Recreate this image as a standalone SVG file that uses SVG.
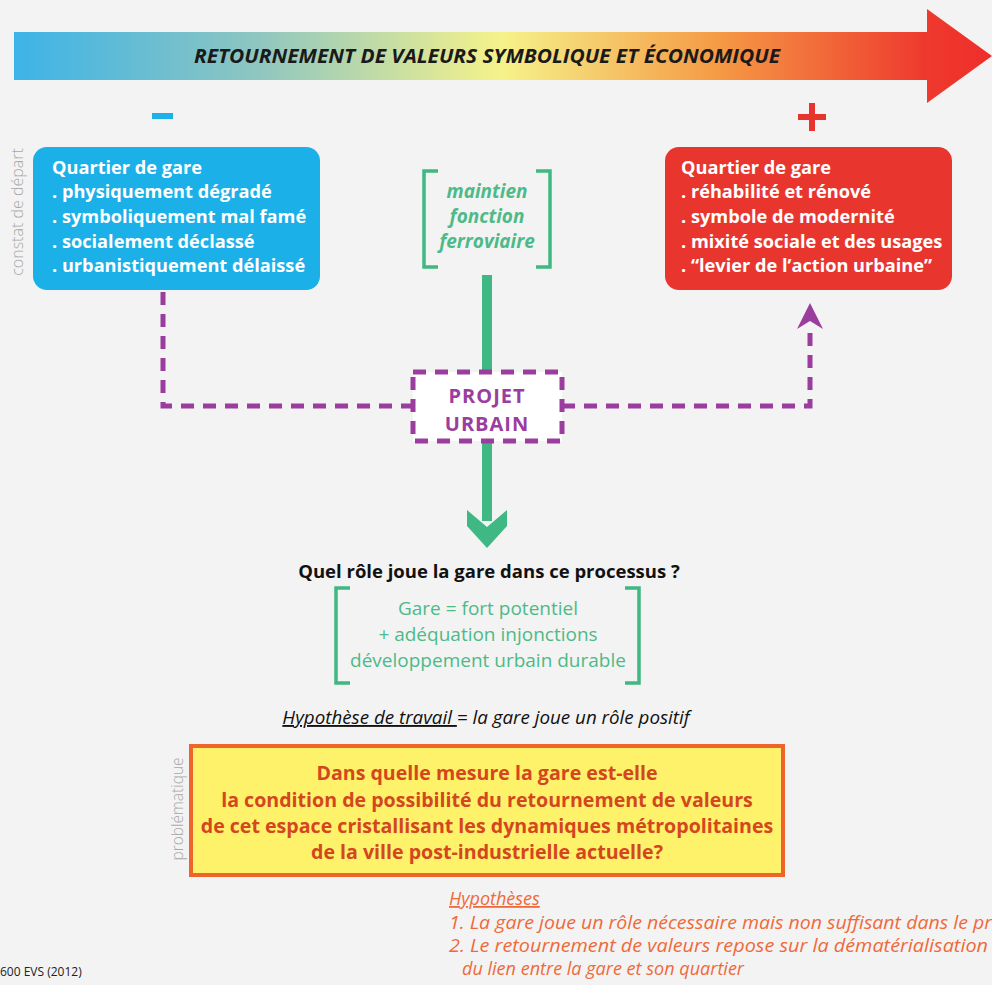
<svg xmlns="http://www.w3.org/2000/svg" width="992" height="985" viewBox="0 0 992 985">
<defs>
<linearGradient id="grad" x1="14" y1="0" x2="992" y2="0" gradientUnits="userSpaceOnUse">
<stop offset="0" stop-color="#3db3e8"/>
<stop offset="0.25" stop-color="#8fc6c0"/>
<stop offset="0.5" stop-color="#f6f28a"/>
<stop offset="0.72" stop-color="#f59a45"/>
<stop offset="0.93" stop-color="#ee3a2e"/>
<stop offset="1" stop-color="#ee2e2a"/>
</linearGradient>
</defs>
<style>
.box{font-family:"Open Sans","Noto Sans",sans-serif;font-weight:bold;font-size:18.2px;fill:#ffffff}
.side{font-family:"Open Sans","Noto Sans",sans-serif;font-weight:300;fill:#a8a8a8}
.green{fill:#3fb883}
.gtext{font-family:"Open Sans","Noto Sans",sans-serif;fill:#4dba88;text-anchor:middle}
.dash{fill:none;stroke:#9b3d9e;stroke-width:5;stroke-dasharray:13 9}
.bracket{fill:none;stroke:#3fb883;stroke-width:3.5}
.prob{font-family:"Open Sans","Noto Sans",sans-serif;font-weight:bold;font-size:19.6px;fill:#d4461e;text-anchor:middle}
.hyp{font-family:"Open Sans","Noto Sans",sans-serif;font-style:italic;font-size:18px;fill:#ef6a3a}
</style>
<rect x="0" y="0" width="992" height="985" fill="#f3f3f3"/>

<g id="value-arrow">
<polygon points="14,32 927,32 927,9 992,56 927,103 927,80 14,80" fill="url(#grad)"/>
<text x="487" y="63" font-family="Open Sans, Noto Sans, sans-serif" font-style="italic" font-weight="bold" font-size="20" fill="#1a1a1a" text-anchor="middle" textLength="586" lengthAdjust="spacingAndGlyphs">RETOURNEMENT DE VALEURS SYMBOLIQUE ET ÉCONOMIQUE</text>
</g>

<g id="minus"><rect x="152" y="113" width="21" height="6" fill="#1eb0e6"/></g>
<g id="plus"><rect x="798" y="114" width="28" height="6" fill="#e8332f"/><rect x="809" y="103" width="6" height="28" fill="#e8332f"/></g>

<g id="constat-label"><text class="side" font-size="16" transform="translate(23,212) rotate(-90)" text-anchor="middle">constat de départ</text></g>

<g id="blue-box">
<rect x="33" y="147" width="287" height="143" rx="14" fill="#1bb0e8"/>
<text class="box" x="52" y="174">Quartier de gare</text>
<text class="box" x="52" y="198">. physiquement dégradé</text>
<text class="box" x="52" y="223">. symboliquement mal famé</text>
<text class="box" x="52" y="248">. socialement déclassé</text>
<text class="box" x="52" y="272">. urbanistiquement délaissé</text>
</g>

<g id="red-box">
<rect x="665" y="147" width="287" height="143" rx="14" fill="#e8362f"/>
<text class="box" x="681" y="174">Quartier de gare</text>
<text class="box" x="681" y="198">. réhabilité et rénové</text>
<text class="box" x="681" y="223">. symbole de modernité</text>
<text class="box" x="681" y="248">. mixité sociale et des usages</text>
<text class="box" x="681" y="272">. “levier de l’action urbaine”</text>
</g>

<g id="rail">
<path class="bracket" d="M438,171 H424 V267 H438 M536,171 H550 V267 H536"/>
<text class="gtext" x="487" y="198" font-style="italic" font-weight="bold" font-size="19">maintien</text>
<text class="gtext" x="487" y="223" font-style="italic" font-weight="bold" font-size="19">fonction</text>
<text class="gtext" x="487" y="248" font-style="italic" font-weight="bold" font-size="19">ferroviaire</text>
</g>

<g id="connectors">
<rect class="green" x="482" y="275" width="10" height="97"/>
<path class="dash" d="M163,292 V406 H413"/>
<path class="dash" d="M562,406 H810 V326"/>
<polygon points="810,303 823,329 810,321 797,329" fill="#9b3d9e"/>
<rect class="green" x="482" y="441" width="10" height="80"/>
<polygon class="green" points="467,510 487,527 507,510 507,526 487,548 467,526"/>
</g>

<g id="projet-urbain">
<rect x="413" y="372" width="149" height="69" fill="#ffffff"/>
<rect class="dash" x="413" y="372" width="149" height="69"/>
<text x="487" y="403" font-family="Open Sans, Noto Sans, sans-serif" font-weight="bold" font-size="20" letter-spacing="1" fill="#9b3d9e" text-anchor="middle">PROJET</text>
<text x="487" y="431" font-family="Open Sans, Noto Sans, sans-serif" font-weight="bold" font-size="20" letter-spacing="1" fill="#9b3d9e" text-anchor="middle">URBAIN</text>
</g>

<g id="question">
<text x="489" y="578" font-family="Open Sans, Noto Sans, sans-serif" font-weight="bold" font-size="18.5" fill="#111111" text-anchor="middle">Quel rôle joue la gare dans ce processus ?</text>
</g>

<g id="potentiel">
<path class="bracket" d="M350,588 H336 V683 H350 M625,588 H639 V683 H625"/>
<text class="gtext" x="488" y="615" font-size="19">Gare = fort potentiel</text>
<text class="gtext" x="488" y="641" font-size="19">+ adéquation injonctions</text>
<text class="gtext" x="488" y="667" font-size="19">développement urbain durable</text>
</g>

<g id="hypothese-travail">
<text x="486" y="724" font-family="Open Sans, Noto Sans, sans-serif" font-style="italic" font-size="18.8" fill="#111111" text-anchor="middle"><tspan text-decoration="underline">Hypothèse de travail </tspan>= la gare joue un rôle positif</text>
</g>

<g id="problematique-label"><text class="side" font-size="15.5" transform="translate(183,809) rotate(-90)" text-anchor="middle">problématique</text></g>

<g id="problematique">
<rect x="191" y="746" width="592" height="129" fill="#fdf26a" stroke="#ef642b" stroke-width="4"/>
<text class="prob" x="487" y="780">Dans quelle mesure la gare est-elle</text>
<text class="prob" x="487" y="807">la condition de possibilité du retournement de valeurs</text>
<text class="prob" x="487" y="833">de cet espace cristallisant les dynamiques métropolitaines</text>
<text class="prob" x="487" y="859">de la ville post-industrielle actuelle?</text>
</g>

<g id="hypotheses">
<text class="hyp" x="449" y="905" text-decoration="underline">Hypothèses</text>
<text class="hyp" x="449" y="929" textLength="543" lengthAdjust="spacingAndGlyphs">1. La gare joue un rôle nécessaire mais non suffisant dans le pr</text>
<text class="hyp" x="449" y="952" textLength="539" lengthAdjust="spacingAndGlyphs">2. Le retournement de valeurs repose sur la dématérialisation</text>
<text class="hyp" x="462" y="975" textLength="282" lengthAdjust="spacingAndGlyphs">du lien entre la gare et son quartier</text>
</g>

<g id="credit"><text x="0" y="976" font-family="Open Sans, Noto Sans, sans-serif" font-size="12" fill="#222222">600 EVS (2012)</text></g>
</svg>
